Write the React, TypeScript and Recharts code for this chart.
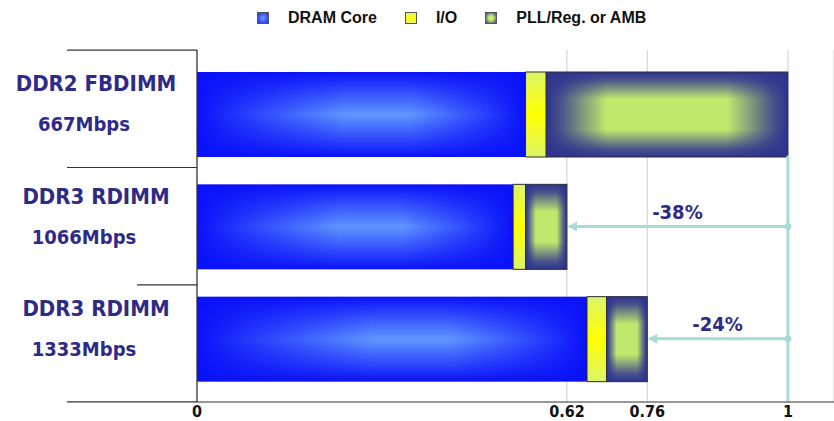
import { BarChart, Bar, XAxis, YAxis, CartesianGrid, ReferenceLine } from 'recharts'

const MODULES = ['DDR2 FBDIMM', 'DDR3 RDIMM', 'DDR3 RDIMM']
const SPEEDS = ['667Mbps', '1066Mbps', '1333Mbps']
const DRAM_CORE = [0.556, 0.535, 0.66]
const IO = [0.035, 0.021, 0.033]
const PLL_AMB = [0.409, 0.07, 0.069]
const X_TICKS = [0, 0.626, 0.762, 1]
const X_TICK_LABELS = ['0', '0.62', '0.76', '1']
const REDUCTIONS = ['', '-38%', '-24%']

const FONT = "'DejaVu Sans Condensed', 'DejaVu Sans', sans-serif"
const NAVY = '#2e2b88'
const TEAL = '#a9dcd6'

const data = MODULES.map((m, i) => ({
  id: `${m} ${SPEEDS[i]}`,
  dram: DRAM_CORE[i],
  io: IO[i],
  pll: PLL_AMB[i],
  total: DRAM_CORE[i] + IO[i] + PLL_AMB[i],
}))

// left-hand separator lines (layout only)
const SEPARATORS = [
  { dy: -64, x1: 67 },
  { dy: -59, x1: 67 },
  { dy: -54, x1: 137 },
]

function ModuleTick(props: any) {
  const { x, y, index } = props
  const sep = SEPARATORS[index]
  return (
    <g>
      {sep && <line x1={sep.x1} x2={x} y1={y + sep.dy} y2={y + sep.dy} stroke="#333" strokeWidth={1.2} />}
      {index === MODULES.length - 1 && <line x1={67} x2={x} y1={y + 63} y2={y + 63} stroke="#333" strokeWidth={1.2} />}
      <text x={x - 101} y={y - 23} textAnchor="middle" fill={NAVY} fontSize={22} fontWeight="bold" fontFamily={FONT}>
        {MODULES[index]}
      </text>
      <text x={x - 113} y={y + 17} textAnchor="middle" fill={NAVY} fontSize={20} fontWeight="bold" fontFamily={FONT}>
        {SPEEDS[index]}
      </text>
    </g>
  )
}

function ValueTick(props: any) {
  const { x, y, index } = props
  return (
    <text x={x} y={y + 15} textAnchor="middle" fill="#111" fontSize={16} fontWeight="bold" fontFamily={FONT}>
      {X_TICK_LABELS[index]}
    </text>
  )
}

// box-shaped glow: a base colour with a lighter colour masked in both directions
function GlowRect(props: any) {
  const { x, y, width, height, base, glow, maskH, maskV, stroke } = props
  if (!width || !height) return null
  return (
    <g>
      <rect x={x} y={y} width={width} height={height} fill={base} />
      <g mask={`url(#${maskV})`}>
        <rect x={x} y={y} width={width} height={height} fill={glow} mask={`url(#${maskH})`} />
      </g>
      {stroke && <rect x={x} y={y} width={width} height={height} fill="none" stroke={stroke} strokeWidth={1} />}
    </g>
  )
}

const DramShape = (p: any) => <GlowRect {...p} base="#0a12fa" glow="#6096ff" maskH="mDramH" maskV="mDramV" />
const PllShape = (p: any) => (
  <GlowRect {...p} base="#2f3390" glow="#c8f26c" maskH="mPllH" maskV="mPllV" stroke="#2a2a3a" />
)

function ArrowLine(props: any) {
  const { x1, y1, x2, y2 } = props
  return (
    <g>
      <line x1={x1 + 2} y1={y1} x2={x2} y2={y2} stroke={TEAL} strokeWidth={3} />
      <path d={`M${x1 + 1},${y1} l9,-5 l0,10 z`} fill={TEAL} />
      <circle cx={x2} cy={y2} r={3.5} fill={TEAL} />
    </g>
  )
}

function BracketLine(props: any) {
  const { x1, y1, x2, y2 } = props
  const lo = Math.min(y1, y2)
  const hi = Math.max(y1, y2)
  const top = lo + (hi - lo) * 0.3
  return <line x1={x1} y1={top} x2={x2} y2={hi} stroke={TEAL} strokeWidth={3} />
}

function MaskGrad({ id, dir, stops }: { id: string; dir: 'h' | 'v'; stops: [number, number][] }) {
  return (
    <>
      <linearGradient id={id + 'G'} x1="0" y1="0" x2={dir === 'h' ? '1' : '0'} y2={dir === 'h' ? '0' : '1'}>
        {stops.map(([o, v], i) => (
          <stop key={i} offset={o} stopColor="#fff" stopOpacity={v} />
        ))}
      </linearGradient>
      <mask id={id} maskContentUnits="objectBoundingBox">
        <rect x="0" y="0" width="1" height="1" fill={`url(#${id}G)`} />
      </mask>
    </>
  )
}

const LEGEND = [
  { name: 'DRAM Core', bg: 'radial-gradient(#6d9cff, #1a28f0)' },
  { name: 'I/O', bg: 'linear-gradient(#e4f86a, #ffff00, #e4f86a)' },
  { name: 'PLL/Reg. or AMB', bg: 'radial-gradient(#c8f06c 30%, #3a3e90)' },
]

export default function App() {
  return (
    <div style={{ position: 'absolute', left: 0, top: 0, width: 834, height: 421, background: '#fff' }}>
      <div
        style={{
          position: 'absolute',
          left: 257,
          top: 9,
          display: 'flex',
          alignItems: 'center',
          fontFamily: "'Liberation Sans', Arial, sans-serif",
          fontWeight: 'bold',
          fontSize: 16,
          color: '#111',
        }}
      >
        {LEGEND.map((l) => (
          <div key={l.name} style={{ display: 'flex', alignItems: 'center', marginRight: 28 }}>
            <span
              style={{
                display: 'inline-block',
                width: 10,
                height: 10,
                background: l.bg,
                border: '1px solid #555',
                marginRight: 19,
              }}
            />
            {l.name}
          </div>
        ))}
      </div>
      <BarChart
        width={834}
        height={421}
        data={data}
        layout="vertical"
        margin={{ top: 50, right: 0, bottom: 0, left: 0 }}
        barSize={85}
      >
        <defs>
          <MaskGrad id="mDramH" dir="h" stops={[[0, 0], [0.15, 0.35], [0.45, 1], [0.65, 1], [0.9, 0.3], [1, 0]]} />
          <MaskGrad id="mDramV" dir="v" stops={[[0, 0], [0.15, 0.3], [0.5, 1], [0.85, 0.3], [1, 0]]} />
          <MaskGrad id="mPllH" dir="h" stops={[[0, 0], [0.07, 0.2], [0.25, 0.95], [0.75, 0.95], [0.93, 0.2], [1, 0]]} />
          <MaskGrad id="mPllV" dir="v" stops={[[0, 0], [0.1, 0.2], [0.32, 1], [0.68, 1], [0.9, 0.2], [1, 0]]} />
          <linearGradient id="gIo" x1="0" y1="0" x2="0" y2="1">
            <stop offset="0" stopColor="#dcf46a" />
            <stop offset="0.5" stopColor="#ffff00" />
            <stop offset="1" stopColor="#dcf46a" />
          </linearGradient>
        </defs>
        <CartesianGrid horizontal={false} stroke="#cfcfcf" />
        <XAxis
          type="number"
          domain={[0, 1.078]}
          ticks={X_TICKS}
          height={19}
          axisLine={{ stroke: '#333', strokeWidth: 1.2 }}
          tickLine={false}
          tickSize={0}
          tickMargin={0}
          tick={<ValueTick />}
          interval={0}
        />
        <XAxis
          xAxisId="top"
          orientation="top"
          type="number"
          domain={[0, 1.078]}
          height={0}
          tick={false}
          tickLine={false}
          axisLine={{ stroke: '#333', strokeWidth: 1.2 }}
        />
        <YAxis
          type="category"
          dataKey="id"
          width={197}
          padding={{ top: 8, bottom: 7 }}
          axisLine={{ stroke: '#333', strokeWidth: 1.2 }}
          tickLine={false}
          tickSize={0}
          tickMargin={0}
          tick={<ModuleTick />}
          interval={0}
        />
        <Bar dataKey="dram" stackId="a" shape={<DramShape />} isAnimationActive={false} />
        <Bar dataKey="io" stackId="a" fill="url(#gIo)" stroke="#2a2a2a" strokeWidth={1} isAnimationActive={false} />
        <Bar dataKey="pll" stackId="a" shape={<PllShape />} isAnimationActive={false} />
        <ReferenceLine x={1} shape={<BracketLine />} />
        {data.map((d, i) =>
          REDUCTIONS[i] ? (
            <ReferenceLine
              key={d.id + i}
              segment={[
                { x: d.total, y: d.id },
                { x: 1, y: d.id },
              ]}
              shape={<ArrowLine />}
              label={{
                value: REDUCTIONS[i],
                position: 'top',
                offset: 8,
                fill: NAVY,
                fontSize: 20,
                fontWeight: 'bold',
                fontFamily: FONT,
              }}
            />
          ) : null,
        )}
      </BarChart>
    </div>
  )
}
